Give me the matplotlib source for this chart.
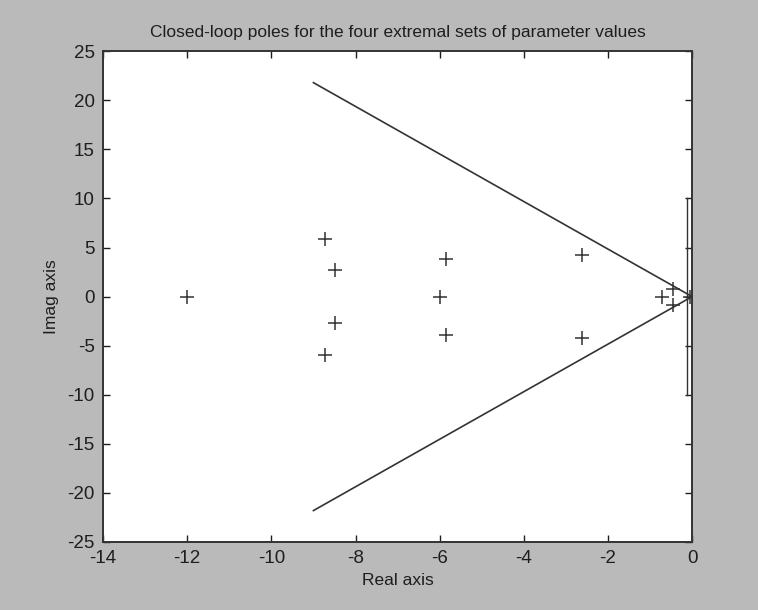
import matplotlib
matplotlib.use("Agg")
from matplotlib import pyplot as plt

# closed-loop poles (real, imag)
pole_re = [-12.0, -8.72, -8.72, -8.49, -8.49, -6.0, -5.84, -5.84,
           -2.61, -2.61, -0.72, -0.46, -0.46, -0.05]
pole_im = [0.0, 5.9, -5.9, 2.73, -2.73, 0.0, 3.87, -3.87,
           4.21, -4.21, 0.0, 0.75, -0.85, 0.0]

# damping boundary lines and the short vertical segment near the origin
cone_re = [-9.0, 0.0, -9.0]
cone_im = [21.8, 0.0, -21.8]
seg_re = [-0.12, -0.12]
seg_im = [10.0, -10.0]

xticks = list(range(-14, 1, 2))
yticks = list(range(-25, 26, 5))

plt.rcParams["font.family"] = ["Liberation Sans", "DejaVu Sans"]
plt.rcParams["font.size"] = 13
plt.rcParams["axes.unicode_minus"] = False

fig = plt.figure(figsize=(7.58, 6.10), dpi=100, facecolor="#bababa")
ax = fig.add_axes([0.136, 0.1115, 0.777, 0.8045])
ax.set_facecolor("white")

ax.plot(cone_re, cone_im, color="#333333", lw=1.2)
ax.plot(seg_re, seg_im, color="#333333", lw=1.0)
ax.plot(pole_re, pole_im, "+", color="#333333", ms=10, mew=1.1)

ax.set_xlim(-14, 0)
ax.set_ylim(-25, 25)
ax.set_xticks(xticks)
ax.set_yticks(yticks)
ax.tick_params(direction="in", length=5, width=1, top=True, right=True,
               labelsize=13.5, pad=6, colors="#1e1e1e")
for s in ax.spines.values():
    s.set_linewidth(1.4)
    s.set_color("#333333")

ax.set_title("Closed-loop poles for the four extremal sets of parameter values",
             fontsize=12.5, pad=10, color="#1e1e1e")
ax.set_xlabel("Real axis", fontsize=12.5, color="#1e1e1e", labelpad=4)
ax.set_ylabel("Imag axis", fontsize=12.5, color="#1e1e1e", labelpad=6)

fig.savefig("out.png", dpi=100, facecolor=fig.get_facecolor())
